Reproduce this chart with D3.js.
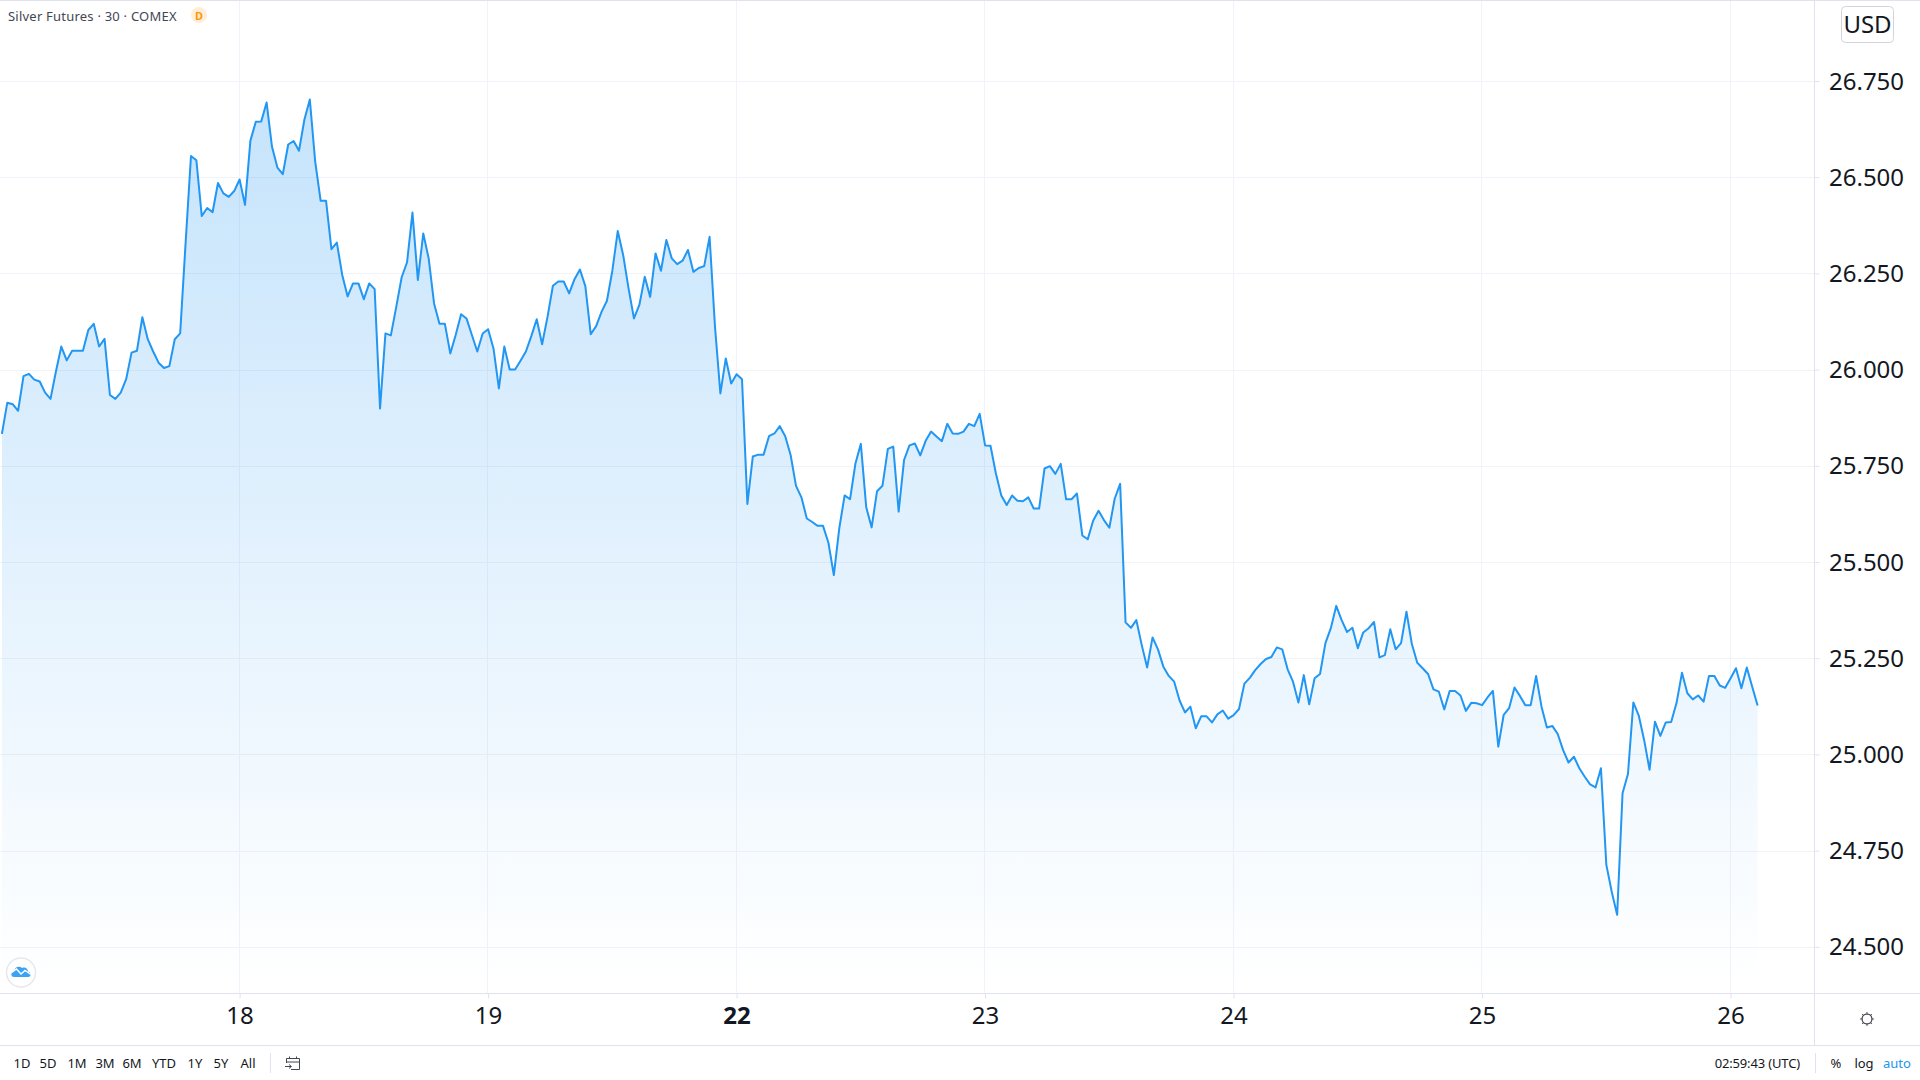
<!DOCTYPE html>
<html>
<head>
<meta charset="utf-8">
<title>Silver Futures</title>
<script src="https://cdn.jsdelivr.net/npm/d3@7/dist/d3.min.js"></script>
<style>
html,body{margin:0;padding:0;background:#fff;overflow:hidden}
svg{display:block}
text{font-family:"Noto Sans",sans-serif}
</style>
</head>
<body>
<svg id="chart" width="1920" height="1080"></svg>
<script>
const seriesTitle = "Silver Futures · 30 · COMEX";
const currency = "USD";
const prices = [
25.833,25.914,25.910,25.893,25.983,25.989,25.974,25.969,25.940,25.924,
25.995,26.060,26.024,26.049,26.049,26.049,26.103,26.119,26.060,26.080,
25.934,25.924,25.940,25.975,26.044,26.049,26.136,26.079,26.047,26.018,
26.004,26.009,26.079,26.094,26.328,26.555,26.544,26.399,26.420,26.409,
26.485,26.458,26.449,26.464,26.494,26.428,26.595,26.644,26.645,26.694,
26.579,26.525,26.508,26.585,26.594,26.569,26.650,26.702,26.540,26.439,
26.439,26.313,26.330,26.246,26.190,26.224,26.224,26.183,26.224,26.209,
25.899,26.094,26.089,26.163,26.240,26.279,26.408,26.233,26.354,26.289,
26.172,26.119,26.119,26.042,26.090,26.144,26.133,26.090,26.047,26.094,
26.105,26.055,25.951,26.060,26.000,26.000,26.023,26.047,26.087,26.131,
26.066,26.137,26.218,26.229,26.229,26.198,26.235,26.260,26.217,26.092,
26.113,26.150,26.179,26.257,26.360,26.298,26.211,26.133,26.168,26.241,
26.189,26.302,26.257,26.337,26.289,26.274,26.283,26.311,26.254,26.264,
26.269,26.345,26.112,25.938,26.029,25.964,25.988,25.975,25.651,25.774,
25.779,25.779,25.827,25.834,25.853,25.827,25.778,25.698,25.668,25.613,
25.604,25.594,25.594,25.550,25.466,25.587,25.673,25.663,25.756,25.807,
25.642,25.590,25.684,25.698,25.794,25.800,25.631,25.765,25.803,25.808,
25.777,25.815,25.839,25.826,25.814,25.859,25.834,25.833,25.839,25.859,
25.853,25.885,25.803,25.802,25.730,25.673,25.648,25.673,25.659,25.658,
25.668,25.639,25.639,25.743,25.749,25.729,25.755,25.663,25.663,25.678,
25.569,25.559,25.607,25.633,25.609,25.589,25.665,25.703,25.343,25.329,
25.349,25.284,25.226,25.304,25.273,25.228,25.204,25.189,25.140,25.109,
25.124,25.068,25.099,25.099,25.083,25.104,25.114,25.093,25.102,25.118,
25.184,25.199,25.219,25.235,25.248,25.253,25.278,25.273,25.221,25.189,
25.135,25.206,25.130,25.198,25.209,25.289,25.328,25.386,25.349,25.318,
25.329,25.276,25.317,25.328,25.344,25.252,25.258,25.325,25.273,25.289,
25.371,25.287,25.238,25.224,25.209,25.169,25.163,25.117,25.165,25.165,
25.153,25.113,25.134,25.133,25.128,25.148,25.165,25.020,25.103,25.120,
25.174,25.152,25.128,25.128,25.204,25.124,25.070,25.074,25.053,25.011,
24.979,24.994,24.964,24.942,24.922,24.914,24.964,24.713,24.643,24.583,
24.899,24.949,25.135,25.101,25.037,24.960,25.085,25.048,25.083,25.084,
25.134,25.212,25.159,25.143,25.153,25.137,25.204,25.204,25.179,25.173,
25.198,25.224,25.172,25.226,25.176,25.127
];
const dayBarIndex = [44,90,136,182,228,274,320];
const dayLabels = ["18","19","22","23","24","25","26"];
const boldDays = ["22"];
const priceTicks = [24.5,24.75,25,25.25,25.5,25.75,26,26.25,26.5,26.75];
const rangeLabels = ["1D","5D","1M","3M","6M","YTD","1Y","5Y","All"];
const rangeCenters = [22,48,77,105,132,164,195,221,248];
const clockText = "02:59:43 (UTC)";
const scaleOptions = ["%","log","auto"];
const scaleCenters = [1836,1864,1897];

const W = 1920, H = 1080, axisX = 1814.5, plotBottom = 993.5, footerTop = 1045.5;
const ink = "#131722", rule = "#e0e3eb", grid = "#f0f3fa", blue = "#2196f3";
const svg = d3.select("#chart");

const x = d3.scaleLinear().domain([0, prices.length - 1]).range([1.9, 1757.6]);
const y = d3.scaleLinear().domain([24.5, 26.75]).range([946.8, 81]);

// gradient
const defs = svg.append("defs");
const g = defs.append("linearGradient").attr("id","fade").attr("gradientUnits","userSpaceOnUse")
  .attr("x1",0).attr("x2",0).attr("y1",y(d3.max(prices))).attr("y2",plotBottom-10);
g.append("stop").attr("offset",0).attr("stop-color",blue).attr("stop-opacity",0.26);
g.append("stop").attr("offset",1).attr("stop-color",blue).attr("stop-opacity",0);

// y axis + horizontal grid
const yAxis = svg.append("g").attr("transform",`translate(${axisX},0)`)
  .call(d3.axisRight(y).tickValues(priceTicks).tickFormat(d3.format(".3f")).tickSize(5).tickPadding(10));
yAxis.select(".domain").remove();
yAxis.selectAll("line").attr("stroke",rule);
yAxis.selectAll("text").attr("font-size",24).attr("fill",ink).attr("dy","0.34em").attr("x",14.5);
svg.append("g").selectAll("line").data(priceTicks).join("line")
  .attr("x1",0).attr("x2",axisX).attr("y1",d=>Math.round(y(d))+0.5).attr("y2",d=>Math.round(y(d))+0.5)
  .attr("stroke",grid);

// x axis + vertical grid
const xAxis = svg.append("g").attr("transform",`translate(0,${plotBottom})`)
  .call(d3.axisBottom(x).tickValues(dayBarIndex).tickFormat((d,i)=>dayLabels[i]).tickSize(5).tickPadding(8));
xAxis.select(".domain").remove();
xAxis.selectAll("line").attr("stroke",rule);
xAxis.selectAll("text").attr("font-size",24).attr("fill",ink).attr("y",11).attr("dy","0.82em")
  .attr("font-weight",(d,i)=>boldDays.includes(dayLabels[i])?700:400);
svg.append("g").selectAll("line").data(dayBarIndex).join("line")
  .attr("x1",d=>Math.round(x(d))-0.5).attr("x2",d=>Math.round(x(d))-0.5).attr("y1",0).attr("y2",plotBottom)
  .attr("stroke",grid);

// area + line
svg.append("path").datum(prices).attr("fill","url(#fade)")
  .attr("d",d3.area().x((d,i)=>x(i)).y0(plotBottom-0.5).y1(d=>y(d)));
svg.append("path").datum(prices).attr("fill","none").attr("stroke",blue).attr("stroke-width",2)
  .attr("stroke-linejoin","round")
  .attr("d",d3.line().x((d,i)=>x(i)).y(d=>y(d)));

// frame
const hline=(yy,x1=0,x2=W)=>svg.append("line").attr("x1",x1).attr("x2",x2).attr("y1",yy).attr("y2",yy).attr("stroke",rule).attr("stroke-width",1);
const vline=(xx,y1,y2)=>svg.append("line").attr("x1",xx).attr("x2",xx).attr("y1",y1).attr("y2",y2).attr("stroke",rule).attr("stroke-width",1);
hline(0.5); hline(plotBottom); hline(footerTop);
vline(axisX,0,footerTop);
vline(270.5,1053,1073); vline(1815.5,1053,1073);

// title + badge
svg.append("text").attr("x",8).attr("y",21).attr("font-size",13).attr("letter-spacing",0.22).attr("fill","#434651").text(seriesTitle);
svg.append("circle").attr("cx",199).attr("cy",15).attr("r",8).attr("fill","#ffeed9");
svg.append("text").attr("x",199).attr("y",19.5).attr("text-anchor","middle").attr("font-size",11).attr("font-weight",700).attr("fill","#ff9800").text("D");

// currency box
svg.append("rect").attr("x",1841.5).attr("y",6.5).attr("width",52).attr("height",36).attr("rx",4).attr("fill","#fff").attr("stroke","#d1d4dc");
svg.append("text").attr("x",1867.5).attr("y",33).attr("text-anchor","middle").attr("font-size",24).attr("fill",ink).text(currency);

// logo
const logo = svg.append("g").attr("transform","translate(21,972.5)");
logo.append("circle").attr("r",14.5).attr("fill","#fff").attr("stroke","#e6e8ee").attr("stroke-width",1.5);
logo.append("path").attr("fill","#3aa3f4")
  .attr("d","M-7,4.5 C-10.5,4.5 -10.5,-0.5 -7,-1.5 C-6,-6 -1.5,-7 1,-4.5 C4,-6 7,-4 7,-1 C10.5,-0.5 10.5,4.5 7,4.5 Z");
logo.append("path").attr("fill","none").attr("stroke","#fff").attr("stroke-width",1.5)
  .attr("d","M-10,0.5 L-4.5,-3.5 L0,1.5 L4,-2 L10,2");

// gear
const gear = svg.append("g").attr("transform","translate(1867,1019)");
gear.append("circle").attr("r",5).attr("fill","none").attr("stroke",ink).attr("stroke-width",1);
gear.selectAll("circle.t").data(d3.range(8)).join("circle").attr("class","t")
  .attr("r",0.8).attr("fill","#434651")
  .attr("cx",d=>6*Math.cos(d*Math.PI/4)).attr("cy",d=>6*Math.sin(d*Math.PI/4));

// range buttons
svg.append("g").selectAll("text").data(rangeLabels).join("text")
  .attr("x",(d,i)=>rangeCenters[i]).attr("y",1068).attr("text-anchor","middle")
  .attr("font-size",13).attr("fill",ink).text(d=>d);

// calendar icon
const cal = svg.append("g").attr("transform","translate(285,1056)").attr("fill","none").attr("stroke","#434651").attr("stroke-width",1);
cal.append("path").attr("d","M1.5,7 V2.5 H14.5 V13.5 H6");
cal.append("path").attr("d","M1.5,6 H14.5 M4.5,0.5 V3 M11.5,0.5 V3");
cal.append("path").attr("d","M0,10.5 H6 M4,8.5 L6.5,10.5 L4,12.5");

// clock + scale options
svg.append("text").attr("x",1800).attr("y",1068).attr("text-anchor","end").attr("font-size",13).attr("letter-spacing",-0.15).attr("fill",ink).text(clockText);
svg.append("g").selectAll("text").data(scaleOptions).join("text")
  .attr("x",(d,i)=>scaleCenters[i]).attr("y",1068).attr("text-anchor","middle").attr("font-size",13)
  .attr("fill",d=>d==="auto"?blue:ink).text(d=>d);
</script>
</body>
</html>
